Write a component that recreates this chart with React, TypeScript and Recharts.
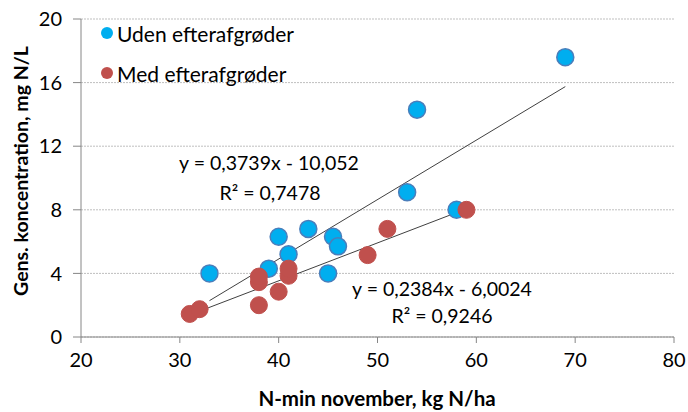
import {
  ComposedChart,
  Scatter,
  XAxis,
  YAxis,
  CartesianGrid,
  ReferenceLine,
  Legend,
  Customized,
} from 'recharts'

// Uden efterafgrøder (blue)
const udenX = [33, 39, 40, 41, 43, 45, 45.5, 46, 53, 54, 58, 69]
const udenY = [4.0, 4.3, 6.3, 5.2, 6.8, 4.0, 6.3, 5.7, 9.1, 14.3, 8.0, 17.6]

// Med efterafgrøder (red)
const medX = [31, 32, 38, 38, 38, 40, 41, 41, 49, 51, 59]
const medY = [1.45, 1.75, 2.0, 3.45, 3.8, 2.85, 3.85, 4.3, 5.15, 6.8, 8.0]

// trendlines: slope, intercept, x-range
const udenTrend = { slope: 0.3739, intercept: -10.052, from: 33, to: 69 }
const medTrend = { slope: 0.2384, intercept: -6.0024, from: 31, to: 59 }

const xTicks = [20, 30, 40, 50, 60, 70, 80]
const yTicks = [0, 4, 8, 12, 16, 20]

const udenData = udenX.map((x, i) => ({ x, y: udenY[i] }))
const medData = medX.map((x, i) => ({ x, y: medY[i] }))

const trendSegment = (t: typeof udenTrend) => [
  { x: t.from, y: t.slope * t.from + t.intercept },
  { x: t.to, y: t.slope * t.to + t.intercept },
]

const BLUE = '#00AEEF'
const BLUE_EDGE = '#4A7EBB'
const RED = '#C0504D'
const FONT = 'Lato, "Open Sans", sans-serif'

const BlueDot = (props: any) => (
  <circle cx={props.cx} cy={props.cy} r={8.5} fill={BLUE} stroke={BLUE_EDGE} strokeWidth={1.5} />
)
const RedDot = (props: any) => (
  <circle cx={props.cx} cy={props.cy} r={8.5} fill={RED} stroke={RED} strokeWidth={1} />
)

const legendItems = [
  { name: 'Uden efterafgrøder', color: BLUE },
  { name: 'Med efterafgrøder', color: RED },
]

const LegendBox = () => (
  <div style={{ fontFamily: FONT, fontSize: 21, color: '#000' }}>
    {legendItems.map((it) => (
      <div key={it.name} style={{ display: 'flex', alignItems: 'center', height: 40 }}>
        <span
          style={{
            width: 12,
            height: 12,
            borderRadius: '50%',
            background: it.color,
            display: 'inline-block',
            marginRight: 4,
          }}
        />
        {it.name}
      </div>
    ))}
  </div>
)

const Annotations = () => (
  <g fontFamily={FONT} fontSize={19.5} fill="#000">
    <text x={269} y={170} textAnchor="middle">y = 0,3739x - 10,052</text>
    <text x={270} y={200} textAnchor="middle">R² = 0,7478</text>
    <text x={442} y={296} textAnchor="middle">y = 0,2384x - 6,0024</text>
    <text x={442} y={323} textAnchor="middle">R² = 0,9246</text>
    <text
      x={20}
      y={171}
      textAnchor="middle"
      fontWeight="bold"
      fontSize={19.5}
      transform="rotate(-90 20 171)"
      dominantBaseline="central"
    >
      Gens. koncentration, mg N/L
    </text>
    <text x={377} y={406} textAnchor="middle" fontWeight="bold" fontSize={20.5}>
      N-min november, kg N/ha
    </text>
  </g>
)

export default function App() {
  return (
    <div style={{ position: 'absolute', left: 0, top: 0, width: 688, height: 412, background: '#fff' }}>
      <ComposedChart width={688} height={412} margin={{ top: 19, right: 14, bottom: 0, left: 0 }}>
        <CartesianGrid
          horizontal
          vertical={false}
          stroke="#BFBFBF"
          strokeDasharray="2 1"
        />
        <XAxis
          type="number"
          dataKey="x"
          domain={[20, 80]}
          ticks={xTicks}
          height={75}
          stroke="#868686"
          tickSize={6}
          tick={{ fill: '#000', fontSize: 20, fontFamily: FONT, dy: 8 }}
          allowDataOverflow
        />
        <YAxis
          type="number"
          dataKey="y"
          domain={[0, 20]}
          ticks={yTicks}
          width={81}
          stroke="#868686"
          tickSize={8}
          tick={{ fill: '#000', fontSize: 20, fontFamily: FONT, dx: -9 }}
          allowDataOverflow
        />
        <ReferenceLine segment={trendSegment(udenTrend)} stroke="#404040" strokeWidth={1} ifOverflow="visible" />
        <ReferenceLine segment={trendSegment(medTrend)} stroke="#404040" strokeWidth={1} ifOverflow="visible" />
        <Scatter name="Uden efterafgrøder" data={udenData} shape={BlueDot} isAnimationActive={false} />
        <Scatter name="Med efterafgrøder" data={medData} shape={RedDot} isAnimationActive={false} />
        <Legend
          layout="vertical"
          verticalAlign="middle"
          align="center"
          content={LegendBox}
          wrapperStyle={{ position: 'absolute', left: 101, top: 13, width: 280 }}
        />
        <Customized component={Annotations} />
      </ComposedChart>
    </div>
  )
}
